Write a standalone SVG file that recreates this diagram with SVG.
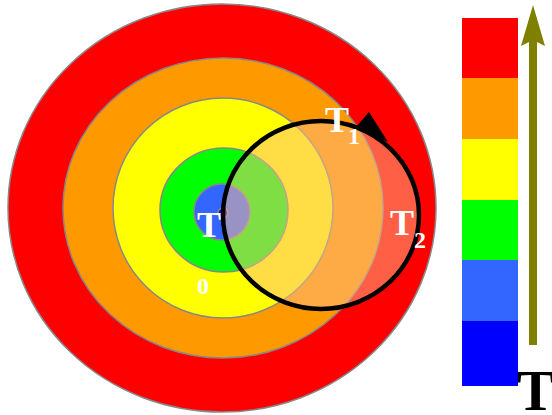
<svg xmlns="http://www.w3.org/2000/svg" width="552" height="415" viewBox="0 0 552 415">
<style>
.ring{stroke:#888888;stroke-width:1.5}
.lbl{font-family:"Liberation Serif","Times New Roman",serif;font-weight:bold;fill:#ffffff}
.big{font-family:"Liberation Serif","Times New Roman",serif;font-weight:bold;fill:#000000}
.bar{stroke:none}
</style>
<rect width="552" height="415" fill="#ffffff"/>
<g id="rings">
<ellipse class="ring" cx="222" cy="208" rx="214" ry="204" fill="#ff0000"/>
<ellipse class="ring" cx="223" cy="208" rx="160" ry="150" fill="#ff9900"/>
<ellipse class="ring" cx="223" cy="208" rx="110" ry="110" fill="#ffff00"/>
<ellipse class="ring" cx="224" cy="210" rx="64" ry="62" fill="#00ff00"/>
<circle class="ring" cx="222" cy="212" r="28" fill="#3366ff"/>
<circle class="ring" cx="223" cy="213" r="5" fill="#0000ff"/>
</g>
<g id="connectors">
<ellipse cx="321" cy="215" rx="98" ry="94" fill="#ffbe8a" fill-opacity="0.5" stroke="#000000" stroke-width="4.5"/>
<polygon points="369,112 356,127 388,142" fill="#000000"/>
<line x1="533" y1="345" x2="533" y2="40" stroke="#808000" stroke-width="8"/>
<polygon points="533,5 545,46 533,40 521,46" fill="#808000"/>
</g>
<g id="labels">
<text class="lbl" x="197" y="237" font-size="36">T</text>
<text class="lbl" x="197" y="294" font-size="24">0</text>
<text class="lbl" x="325" y="132" font-size="36">T</text>
<text class="lbl" x="348" y="144" font-size="24">1</text>
<text class="lbl" x="390" y="235" font-size="36">T</text>
<text class="lbl" x="414" y="248" font-size="24">2</text>
</g>
<g id="scale">
<rect class="bar" x="462" y="18" width="56" height="60" fill="#ff0000"/>
<rect class="bar" x="462" y="78" width="56" height="61" fill="#ff9900"/>
<rect class="bar" x="462" y="139" width="56" height="61" fill="#ffff00"/>
<rect class="bar" x="462" y="200" width="56" height="60" fill="#00ff00"/>
<rect class="bar" x="462" y="260" width="56" height="61" fill="#3366ff"/>
<rect class="bar" x="462" y="321" width="56" height="65" fill="#0000ff"/>
<text class="big" x="517" y="410" font-size="56">T</text>
</g>
</svg>
